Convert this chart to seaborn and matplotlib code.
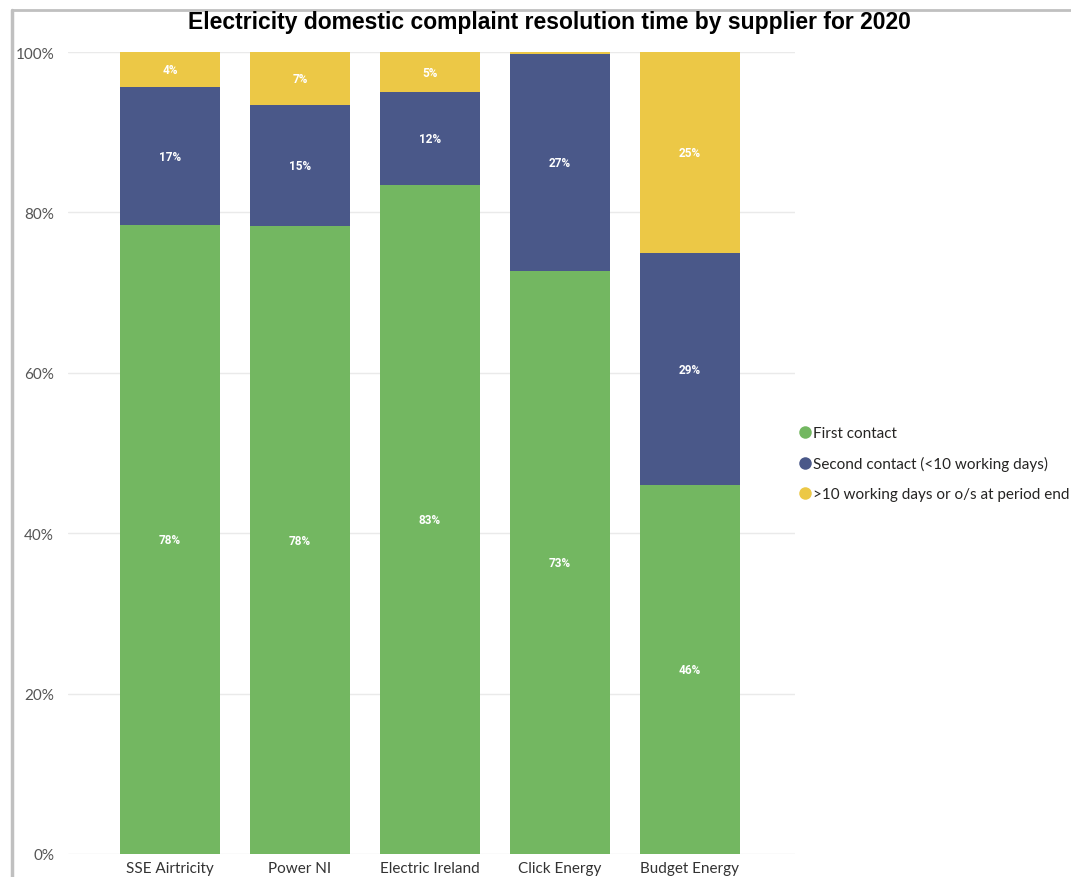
import matplotlib
matplotlib.use("Agg")
import matplotlib.pyplot as plt
from matplotlib.lines import Line2D
import seaborn as sns
import numpy as np
import pandas as pd

# Share of complaints (%) by resolution time, per supplier
suppliers = ["SSE Airtricity", "Power NI", "Electric Ireland", "Click Energy", "Budget Energy"]
first_contact = [78.4, 78.3, 83.4, 72.7, 46.0]
second_contact = [17.2, 15.1, 11.6, 27.0, 28.9]
over_ten_days = [4.4, 6.6, 5.0, 0.3, 25.1]

series_names = ["First contact", "Second contact (<10 working days)",
                ">10 working days or o/s at period end"]
series_colors = ["#73B761", "#4A5889", "#ECC846"]
y_ticks = [0, 20, 40, 60, 80, 100]
y_tick_labels = ["0%", "20%", "40%", "60%", "80%", "100%"]

sns.set_theme(style="white")
plt.rcParams["font.family"] = ["Lato", "DejaVu Sans"]

fig = plt.figure(figsize=(10.71, 8.78), dpi=100)
ax = fig.add_axes([0.0635, 0.0262, 0.6788, 0.9134])

df = pd.DataFrame({"supplier": suppliers,
                   "first": first_contact,
                   "second": second_contact,
                   "over": over_ten_days})

bottom = np.zeros(len(suppliers))
for col, name, color in zip(["first", "second", "over"], series_names, series_colors):
    sns.barplot(data=df, x="supplier", y=col, color=color, bottom=bottom,
                width=0.77, ax=ax, saturation=1, edgecolor="none", zorder=3)
    vals = df[col].to_numpy()
    for i, v in enumerate(vals):
        if v >= 2:
            ax.text(i, bottom[i] + v / 2, f"{round(v):d}%", ha="center", va="center",
                    color="white", fontsize=8.5, fontweight="bold",
                    family=["Roboto", "DejaVu Sans"], zorder=4)
    bottom = bottom + vals

ax.set_xlim(-0.785, 4.81)
ax.set_ylim(0, 100)
ax.set_yticks(y_ticks)
ax.set_yticklabels(y_tick_labels)
ax.set_xlabel("")
ax.set_ylabel("")
ax.yaxis.grid(True, color="#EAEAEA", linewidth=1, zorder=0)
ax.set_axisbelow(True)
for s in ax.spines.values():
    s.set_visible(False)
ax.tick_params(axis="y", length=0, pad=10, labelsize=11, labelcolor="#555555")
ax.tick_params(axis="x", length=0, pad=5, labelsize=11, labelcolor="#333333")

# Legend with round markers
handles = [Line2D([0], [0], marker="o", linestyle="none", markersize=9,
                  markerfacecolor=c, markeredgecolor="none") for c in series_colors]
fig.legend(handles, series_names, loc="center left", bbox_to_anchor=(0.731, 0.471),
           frameon=False, fontsize=11, handletextpad=0.0, labelspacing=1.05,
           handlelength=1.1, labelcolor="#252423")

fig.suptitle("Electricity domestic complaint resolution time by supplier for 2020",
             x=0.513, y=0.987, fontsize=16.5, fontweight="bold",
             family=["Liberation Sans", "DejaVu Sans"], color="black")

# Outer frame lines along the left and top edges
fig.add_artist(Line2D([0.0112, 0.0112], [0, 0.987], transform=fig.transFigure,
                      color="#C0C0C0", linewidth=2.5))
fig.add_artist(Line2D([0.0112, 1.0], [0.987, 0.987], transform=fig.transFigure,
                      color="#C0C0C0", linewidth=2))

fig.savefig("out.png", dpi=100)
